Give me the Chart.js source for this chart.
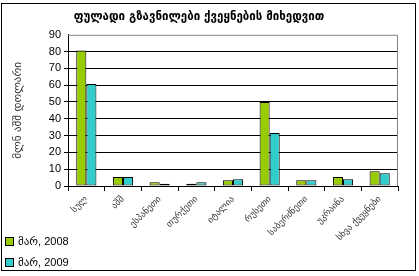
<!DOCTYPE html>
<html lang="ka">
<head>
<meta charset="UTF-8">
<title>ფულადი გზავნილები ქვეყნების მიხედვით</title>
<style>
  body { margin: 0; background: #fff; overflow: hidden; }
  #wrap { position: relative; width: 419px; height: 276px; }
  #frame { position: absolute; left: 1px; top: 3px; width: 413px; height: 266px; border: 1px solid #000; }
  canvas { position: absolute; left: 0; top: 0; }
  #legend { position: absolute; left: 5px; top: 231px; font: 11px "Liberation Sans", "DejaVu Sans", sans-serif; }
  #legend div { height: 21px; display: flex; align-items: center; }
  #legend span.box { width: 7px; height: 7px; border: 1px solid #000; margin-right: 4px; }
</style>
</head>
<body>
<div id="wrap">
  <div id="frame"></div>
  <canvas id="chart" width="419" height="276"></canvas>
  <div id="legend"></div>
</div>

<script src="https://cdn.jsdelivr.net/npm/chart.js"></script>
<script>
// ქვეყნები
const categories = ['სულ', 'აშშ', 'ესპანეთი', 'თურქეთი', 'იტალია', 'რუსეთი', 'საბერძნეთი', 'უკრაინა', 'სხვა ქვეყნები'];
// მლნ აშშ დოლარი
const mar2008 = [80.6, 5.4, 2.2, 1.4, 3.4, 50.0, 3.4, 5.4, 8.8];
const mar2009 = [60.7, 5.4, 1.4, 2.2, 4.0, 31.5, 3.4, 4.0, 7.6];
const seriesLabels = ['მარ, 2008', 'მარ, 2009'];
const yMax = 90;
const yStep = 10;

const colors = ['#99CC00', '#33CCCC'];

// gray border on top/right of plot area
const plotFrame = {
  id: 'plotFrame',
  beforeDatasetsDraw(chart) {
    const a = chart.chartArea, ctx = chart.ctx;
    ctx.save();
    ctx.strokeStyle = '#808080';
    ctx.lineWidth = 1;
    ctx.beginPath();
    ctx.moveTo(a.left, a.top + 0.5);
    ctx.lineTo(a.right - 0.5, a.top + 0.5);
    ctx.lineTo(a.right - 0.5, a.bottom);
    ctx.stroke();
    ctx.restore();
  }
};

const chart = new Chart(document.getElementById('chart'), {
  type: 'bar',
  data: {
    labels: categories,
    datasets: [mar2008, mar2009].map((d, i) => ({
      label: seriesLabels[i],
      data: d,
      backgroundColor: colors[i],
      borderColor: '#000',
      borderWidth: 1,
      borderSkipped: false,
      barPercentage: 1,
      categoryPercentage: 0.55
    }))
  },
  options: {
    responsive: false,
    animation: false,
    layout: { padding: { left: 0, right: 21, top: 0, bottom: 6 } },
    plugins: {
      legend: { display: false },
      tooltip: { enabled: false },
      title: {
        display: true,
        text: 'ფულადი გზავნილები ქვეყნების მიხედვით',
        color: '#000',
        font: { family: 'DejaVu Sans', size: 11.5, weight: 'bold' },
        padding: { top: 10, bottom: 11 }
      }
    },
    scales: {
      x: {
        grid: { display: true, drawOnChartArea: false, drawTicks: true, tickLength: 5, color: '#000', offset: true },
        border: { color: '#000' },
        ticks: {
          minRotation: 45, maxRotation: 45, autoSkip: false,
          color: '#333',
          font: { family: 'DejaVu Sans', size: 9 }
        },
        afterCalculateLabelRotation(scale) { scale.labelRotation = 45; },
        afterFit(scale) { scale.height = 84; }
      },
      y: {
        min: 0, max: yMax,
        grid: {
          color: c => c.tick && c.tick.value === yMax ? 'rgba(0,0,0,0)' : '#000',
          tickLength: 4
        },
        border: { color: '#000' },
        ticks: {
          stepSize: yStep,
          color: '#000',
          padding: 3,
          font: { family: 'Liberation Sans', size: 11 }
        },
        title: {
          display: true,
          text: 'მლნ აშშ დოლარი',
          color: '#333',
          font: { family: 'DejaVu Sans', size: 11 },
          padding: { top: 12, bottom: 0 }
        },
        afterFit(scale) { scale.width = 68; }
      }
    }
  },
  plugins: [plotFrame]
});

// legend
const legend = document.getElementById('legend');
seriesLabels.forEach((lab, i) => {
  const row = document.createElement('div');
  row.innerHTML = '<span class="box" style="background:' + colors[i] + '"></span>' + lab;
  legend.appendChild(row);
});
</script>
</body>
</html>
